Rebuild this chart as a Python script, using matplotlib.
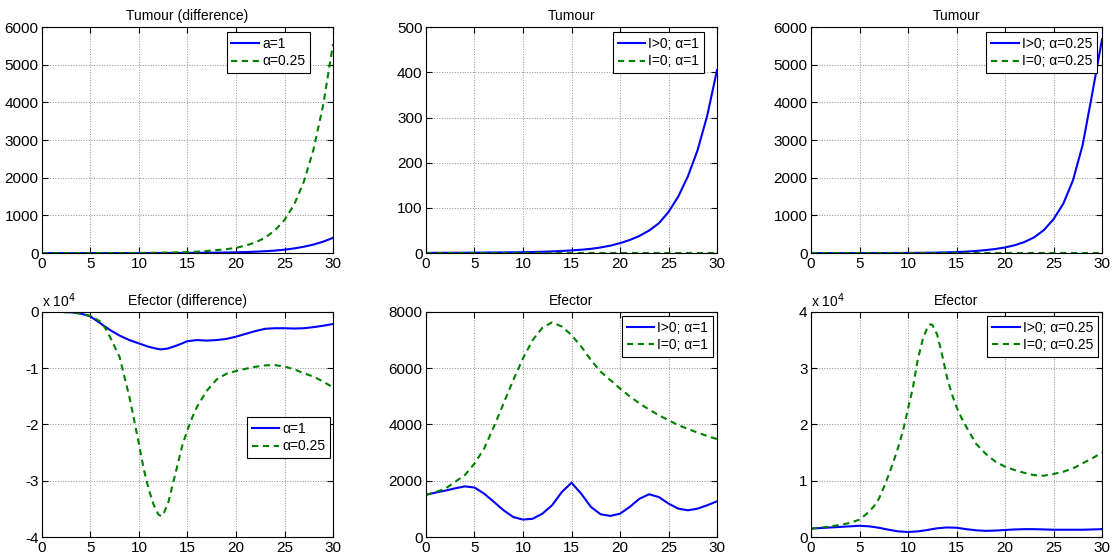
import matplotlib.pyplot as plt
import numpy as np
from matplotlib.ticker import FuncFormatter

plt.rcParams['font.family'] = ['Liberation Sans', 'DejaVu Sans']
plt.rcParams['font.size'] = 10
plt.rcParams['axes.unicode_minus'] = False

# time axis (days)
t = list(range(31))
t_pk = sorted(list(range(31)) + [12.3])  # extra point near the peaks
# finer sampling round the big peak of the alpha=0.25 curves
t_h = [0, 1, 2, 3, 4, 5, 6, 6.5, 7, 7.5, 8, 8.5, 9, 9.5, 10, 10.5, 11, 11.5, 12, 12.3, 12.5,
       13, 13.5, 14, 14.5, 15, 15.5, 16, 17, 18, 19, 20, 21, 22, 23, 24, 25, 26, 27, 28, 29, 30]

# Tumour, I>0, alpha=1 / alpha=0.25 ; I=0 stays at ~0
tum_I_a1 = [0.5, 0.6, 0.7, 0.8, 0.9, 1.0, 1.2, 1.4, 1.6, 1.8, 2.0, 2.5, 3.0, 3.8, 4.8, 6.0,
            7.5, 9.5, 12.5, 16.5, 22, 29, 38, 50, 66, 91, 125, 170, 228, 305, 405]
tum_0_a1 = [0] * 31
tum_I_a025 = [0.5, 0.6, 0.7, 0.9, 1.1, 1.4, 1.8, 2.3, 3, 4, 5, 7, 10, 14, 20, 28,
              40, 57, 80, 110, 150, 210, 295, 420, 610, 900, 1310, 1930, 2870, 4250, 5680]
tum_0_a025 = [0] * 31

# tumour difference panel
tdiff_a1 = [0.5, 0.6, 0.7, 0.8, 0.9, 1.0, 1.2, 1.4, 1.6, 1.8, 2.0, 2.5, 3.0, 3.8, 4.8, 6.0,
            7.5, 9.5, 12.5, 16.5, 22, 29, 38, 50, 66, 91, 125, 170, 228, 305, 405]
tdiff_a025 = [0.5, 0.6, 0.7, 0.9, 1.1, 1.4, 1.8, 2.3, 3, 4, 5, 7, 10, 14, 20, 28,
              40, 57, 80, 105, 140, 200, 285, 410, 600, 880, 1290, 1900, 2760, 3950, 5550]

# efector difference panel
ediff_a1 = [0, 0, -5, -60, -300, -800, -2000, -3200, -4200, -5000, -5600, -6200, -6600, -6650,
            -6500, -5900, -5200, -5000, -5100, -5000, -4800, -4400, -3900, -3400, -3000,
            -2900, -2900, -2950, -2900, -2700, -2450, -2150]          # on t_pk
ediff_a025 = [0, 0, -10, -80, -300, -700, -1700, -2800, -4400, -6200, -8000, -11500, -15000,
              -19200, -23500, -28000, -31500, -34200, -36000, -36300, -36000, -34000, -30500,
              -27000, -23500, -21000, -18700, -16800, -14000, -12000, -11000, -10500, -10100,
              -9750, -9500, -9450, -9700, -10200, -10900, -11500, -12400, -13400]  # on t_h

# efector, alpha=1
eff_I_a1 = [1500, 1580, 1650, 1730, 1800, 1760, 1540, 1250, 950, 710, 620, 650, 830, 1130,
            1600, 1930, 1540, 1070, 810, 750, 830, 1070, 1360, 1520, 1420, 1190, 1010, 950,
            1010, 1130, 1270]
eff_0_a1 = [1500, 1600, 1720, 1960, 2200, 2610, 3150, 3920, 4750, 5580, 6350, 7000, 7440, 7630,
            7480, 7180, 6770, 6290, 5880, 5580, 5280, 5000, 4750, 4530, 4330, 4150, 3980, 3840,
            3710, 3590, 3480]

# efector, alpha=0.25
eff_I_a025 = [1500, 1600, 1700, 1800, 1900, 2000, 1900, 1650, 1300, 1000, 900, 1000, 1250, 1350,
              1550, 1700, 1650, 1400, 1200, 1100, 1150, 1250, 1350, 1400, 1400, 1350, 1300, 1300,
              1300, 1300, 1350, 1400]                                   # on t_pk
eff_0_a025 = [1500, 1650, 1900, 2150, 2500, 3100, 4500, 5500, 6800, 8800, 11000, 13400, 16000,
              19000, 22800, 26500, 31500, 35000, 37300, 37800, 37700, 36000, 32500, 28500,
              25500, 23100, 21200, 19600, 16600, 14800, 13400, 12500, 11900, 11400, 11000,
              10900, 11200, 11600, 12200, 13100, 14000, 15000]          # on t_h

blue = (0, 0, 1)
green = (0, 0.5, 0)

fig = plt.figure(figsize=(11.16, 5.6), dpi=100)
lefts = [0.0376, 0.3817, 0.7267]
w = 0.2608
axs = [[fig.add_axes([l, 0.548, w, 0.4036]) for l in lefts],
       [fig.add_axes([l, 0.041, w, 0.402]) for l in lefts]]


def style(ax, title, ylim, yticks):
    ax.set_xlim(0, 30)
    ax.set_xticks(range(0, 31, 5))
    ax.set_ylim(*ylim)
    ax.set_yticks(yticks)
    ax.grid(True, linestyle=':', color='#909090', linewidth=0.7)
    ax.tick_params(direction='in', top=True, right=True, length=4, pad=2.5, labelsize=11)
    ax.set_title(title, fontsize=10, pad=5)
    for s in ax.spines.values():
        s.set_linewidth(0.8)


def leg(ax, labels, anchor):
    lg = ax.legend(labels, loc='upper right', bbox_to_anchor=anchor, borderaxespad=0,
                   fancybox=False, framealpha=1, edgecolor='black', fontsize=10,
                   handlelength=2.0, handletextpad=0.2, borderpad=0.35, labelspacing=0.25)
    lg.get_frame().set_linewidth(0.8)


def two_lines(ax, x1, y1, x2, y2):
    ax.plot(x1, y1, color=blue, lw=1.5)
    ax.plot(x2, y2, color=green, lw=1.5, dashes=(3, 2.2))


sci = FuncFormatter(lambda v, p: f'{v / 1e4:g}')

# top row
ax = axs[0][0]
two_lines(ax, t, tdiff_a1, t, tdiff_a025)
style(ax, 'Tumour (difference)', (0, 6000), range(0, 6001, 1000))
leg(ax, ['a=1', 'α=0.25'], (0.921, 0.978))

ax = axs[0][1]
two_lines(ax, t, tum_I_a1, t, tum_0_a1)
style(ax, 'Tumour', (0, 500), range(0, 501, 100))
leg(ax, ['I>0; α=1', 'I=0; α=1'], (0.955, 0.978))

ax = axs[0][2]
two_lines(ax, t, tum_I_a025, t, tum_0_a025)
style(ax, 'Tumour', (0, 6000), range(0, 6001, 1000))
leg(ax, ['I>0; α=0.25', 'I=0; α=0.25'], (0.983, 0.978))

# bottom row
ax = axs[1][0]
two_lines(ax, t_pk, ediff_a1, t_h, ediff_a025)
style(ax, 'Efector (difference)', (-40000, 0), range(-40000, 1, 10000))
ax.yaxis.set_major_formatter(sci)
ax.text(0, 1.01, 'x 10$^4$', transform=ax.transAxes, fontsize=10, va='bottom', ha='left')
leg(ax, ['α=1', 'α=0.25'], (0.990, 0.533))

ax = axs[1][1]
two_lines(ax, t, eff_I_a1, t, eff_0_a1)
style(ax, 'Efector', (0, 8000), range(0, 8001, 2000))
leg(ax, ['I>0; α=1', 'I=0; α=1'], (0.986, 0.982))

ax = axs[1][2]
two_lines(ax, t_pk, eff_I_a025, t_h, eff_0_a025)
style(ax, 'Efector', (0, 40000), range(0, 40001, 10000))
ax.yaxis.set_major_formatter(sci)
ax.text(0, 1.01, 'x 10$^4$', transform=ax.transAxes, fontsize=10, va='bottom', ha='left')
leg(ax, ['I>0; α=0.25', 'I=0; α=0.25'], (0.986, 0.982))

fig.savefig('out.png', dpi=100)
